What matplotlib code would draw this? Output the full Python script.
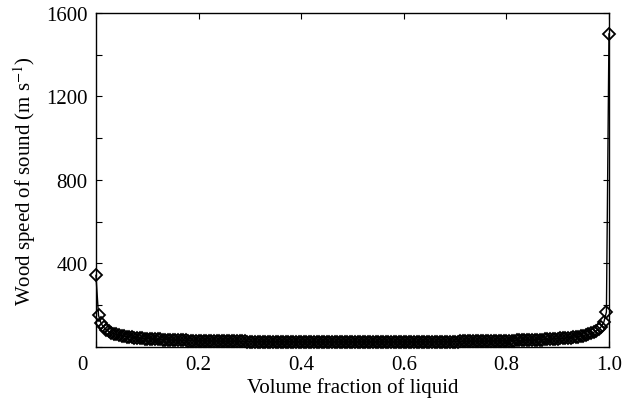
import numpy as np
import matplotlib
matplotlib.use("Agg")
import matplotlib.pyplot as plt
import matplotlib.transforms as mtransforms

plt.rcParams['font.family'] = ['Liberation Serif', 'DejaVu Serif']
plt.rcParams['mathtext.fontset'] = 'stix'

# volume fraction of liquid, sampled every 0.005
phi = np.linspace(0.0, 1.0, 201)

# Wood speed of sound (m/s)
speed = [
    343.0, 151.4, 112.9, 94.1, 82.5, 74.4, 68.3, 63.6, 59.8, 56.6, 53.9,
    51.6, 49.6, 47.8, 46.2, 44.8, 43.5, 42.3, 41.3, 40.3, 39.4,
    38.6, 37.8, 37.1, 36.4, 35.8, 35.2, 34.6, 34.1, 33.6, 33.2,
    32.7, 32.3, 31.9, 31.5, 31.2, 30.8, 30.5, 30.2, 29.9, 29.6,
    29.4, 29.1, 28.9, 28.6, 28.4, 28.2, 28.0, 27.8, 27.6, 27.4,
    27.2, 27.0, 26.9, 26.7, 26.6, 26.4, 26.3, 26.1, 26.0, 25.9,
    25.8, 25.7, 25.5, 25.4, 25.3, 25.2, 25.1, 25.1, 25.0, 24.9,
    24.8, 24.7, 24.7, 24.6, 24.5, 24.5, 24.4, 24.3, 24.3, 24.2,
    24.2, 24.1, 24.1, 24.0, 24.0, 24.0, 24.0, 23.9, 23.9, 23.9,
    23.8, 23.8, 23.8, 23.8, 23.8, 23.8, 23.8, 23.8, 23.8, 23.8,
    23.8, 23.8, 23.8, 23.8, 23.8, 23.8, 23.8, 23.8, 23.9, 23.9,
    23.9, 23.9, 24.0, 24.0, 24.0, 24.1, 24.1, 24.1, 24.2, 24.2,
    24.3, 24.4, 24.4, 24.5, 24.5, 24.6, 24.7, 24.7, 24.8, 24.9,
    25.0, 25.1, 25.2, 25.3, 25.4, 25.5, 25.6, 25.7, 25.8, 25.9,
    26.0, 26.2, 26.3, 26.5, 26.6, 26.8, 26.9, 27.1, 27.3, 27.4,
    27.6, 27.8, 28.0, 28.2, 28.4, 28.7, 28.9, 29.2, 29.4, 29.7,
    30.0, 30.3, 30.6, 30.9, 31.3, 31.6, 32.0, 32.4, 32.8, 33.3,
    33.7, 34.2, 34.8, 35.3, 35.9, 36.6, 37.2, 38.0, 38.7, 39.6,
    40.5, 41.5, 42.6, 43.8, 45.1, 46.5, 48.2, 50.0, 52.1, 54.5,
    57.3, 60.6, 64.6, 69.6, 76.0, 84.7, 97.6, 119.0, 167.4, 1500.0,
]

xticks = [0, 0.2, 0.4, 0.6, 0.8, 1.0]
xticklabels = ['0', '0.2', '0.4', '0.6', '0.8', '1.0']
yticks = [0, 200, 400, 600, 800, 1000, 1200, 1400, 1600]
yticklabels = ['', '', '400', '', '800', '', '1200', '', '1600']

fig = plt.figure(figsize=(6.23, 4.06), dpi=100)
ax = fig.add_axes([0.154, 0.143, 0.8235, 0.8225])

ax.plot(phi, speed, color='black', lw=1.0, marker='D', ms=6.5,
        mfc='none', mec='black', mew=1.3, clip_on=False, zorder=3)

ax.set_xlim(0, 1.0)
ax.set_ylim(0, 1600)
ax.set_xticks(xticks)
ax.set_xticklabels(xticklabels)
ax.set_yticks(yticks)
ax.set_yticklabels(yticklabels)
ax.tick_params(direction='in', top=True, right=True, length=4, width=0.8,
               labelsize=15, pad=6)
for s in ax.spines.values():
    s.set_linewidth(1.0)

# shift the "0" corner label to the left
lab0 = ax.get_xticklabels()[0]
lab0.set_transform(lab0.get_transform() +
                   mtransforms.ScaledTranslation(-14 / 100, 0, fig.dpi_scale_trans))

ax.set_xlabel('Volume fraction of liquid', fontsize=15, labelpad=2)
ax.set_ylabel(r'Wood speed of sound (m s$^{-1}$)', fontsize=15, labelpad=6)

fig.savefig('out.png', dpi=100)
